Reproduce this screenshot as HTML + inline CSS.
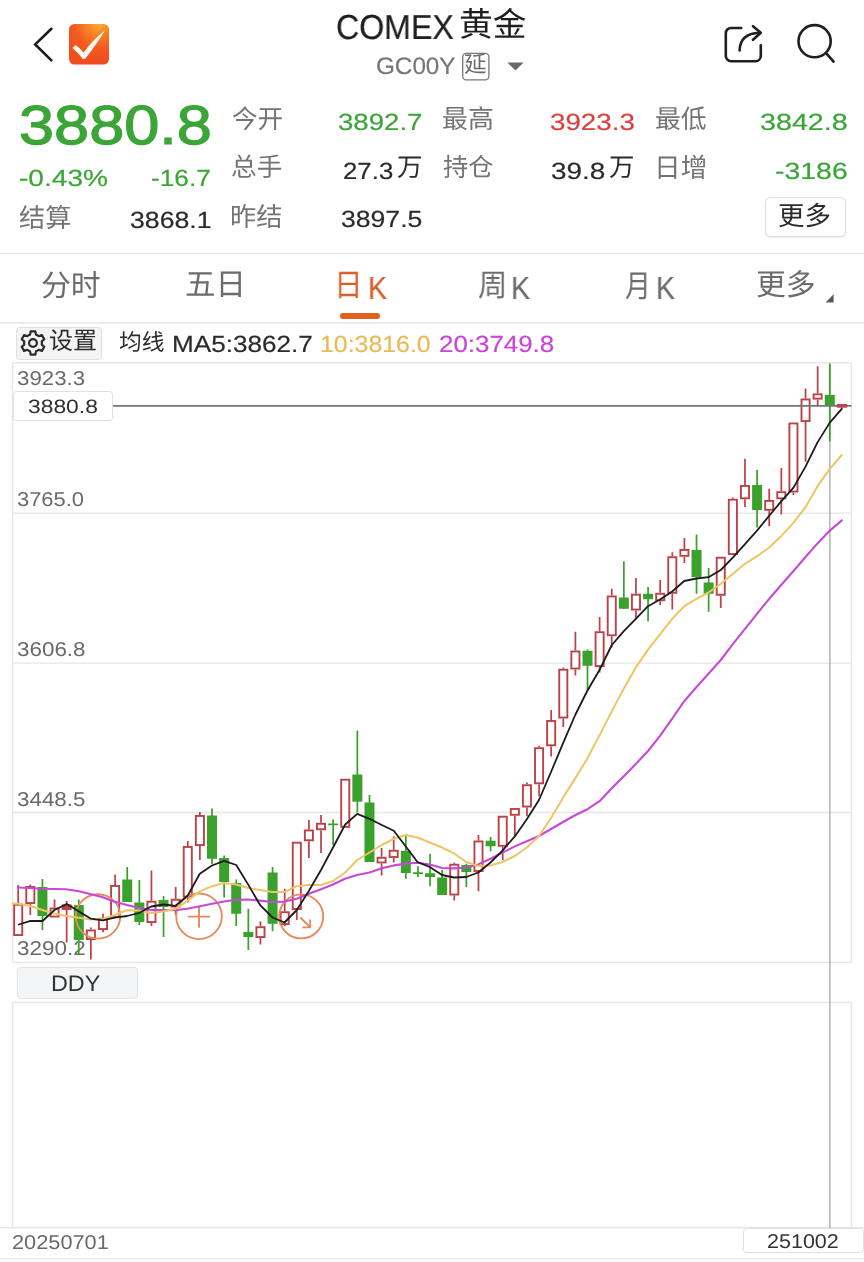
<!DOCTYPE html>
<html lang="zh"><head><meta charset="utf-8"><title>COMEX 黄金 GC00Y</title>
    <style>
    html,body{margin:0;padding:0;background:#fff}
    body{width:864px;height:1262px;position:relative;overflow:hidden;font-family:"Liberation Sans","Noto Sans CJK SC",sans-serif}
    .t{position:absolute;white-space:nowrap;line-height:1;transform-origin:0 0;will-change:transform;text-rendering:geometricPrecision;font-kerning:none}
.k{-webkit-text-stroke-width:.2px}
    .c{position:absolute;overflow:visible;display:block}
    .btn{position:absolute;box-sizing:content-box;border:1px solid #ddd}
    .hl{position:absolute;left:0;width:864px;height:1.2px}
    </style></head><body>
    <svg class="c" style="left:0;top:0;width:864px;height:100px" viewBox="0 0 864 100"><defs><radialGradient id="og" cx=".74" cy="-.02" r=".95"><stop offset="0" stop-color="#fbb035"/><stop offset=".3" stop-color="#f78326"/><stop offset=".62" stop-color="#f45c21"/><stop offset="1" stop-color="#f04d1f"/></radialGradient></defs><path d="M51.4 28.8 35.2 44.4 51.4 60.4" fill="none" stroke="#1c1c1c" stroke-width="2.6" stroke-linecap="round" stroke-linejoin="miter"/><rect x="69" y="24" width="40" height="40.5" rx="5.5" fill="url(#og)"/><path d="M72.3 48 75.6 44.9Q80 48 83.7 52.4 92.5 39.6 105.2 30.2 97.6 42.6 85.3 58.8L82.7 58.9Q78.4 52.8 72.3 48Z" fill="#fff6ee"/><g fill="none" stroke="#1f1f1f" stroke-width="2.6" stroke-linecap="round" stroke-linejoin="round"><path d="M741.2 28H731a5.2 5.2 0 0 0-5.2 5.2V56a5.2 5.2 0 0 0 5.2 5.2h24.6a5.2 5.2 0 0 0 5.2-5.2V45.2"/><path d="M739.6 50.4C739.8 40 746 33.4 759.6 32.8"/><path d="M753 26.2 760.8 32.7 753 39.8"/><circle cx="814.6" cy="41.2" r="16.1"/><path d="M826.3 53.4 833.6 61.6"/></g><rect x="462.7" y="53.3" width="26.2" height="26.6" rx="3.6" fill="none" stroke="#777" stroke-width="1.3"/><path d="M507.4 62.6H523.6L515.5 70.4Z" fill="#6a6a6a"/></svg>
<div class="t k" style="left:336.07px;top:11.00px;font-size:34.60px;color:#1e1e1e;transform:scaleX(0.9290);">COMEX</div>
<div class="t" style="left:459.34px;top:9.40px;font-size:33.37px;color:#1e1e1e;transform:scaleX(1.0114);">黄金</div>
<div class="t k" style="left:375.98px;top:55.00px;font-size:23.80px;color:#767676;transform:scaleX(1.0193);">GC00Y</div>
<div class="t" style="left:464.18px;top:54.40px;font-size:22.54px;color:#6a6a6a;">延</div>
<div class="t" style="left:18.70px;top:98.00px;font-size:55.00px;color:#3ba537;transform:scaleX(1.1469);-webkit-text-stroke:1.2px #3ba537;">3880.8</div>
<div class="t k" style="left:19.25px;top:167.00px;font-size:23.40px;color:#3ba537;transform:scaleX(1.2014);">-0.43%</div>
<div class="t k" style="left:151.33px;top:167.00px;font-size:23.40px;color:#3ba537;transform:scaleX(1.1211);">-16.7</div>
<div class="t" style="left:18.81px;top:204.60px;font-size:26.17px;color:#747474;">结算</div>
<div class="t k" style="left:129.58px;top:209.00px;font-size:23.40px;color:#2b2b2b;transform:scaleX(1.1394);">3868.1</div>
<div class="t" style="left:231.50px;top:108.10px;font-size:25.60px;color:#747474;">今开</div>
<div class="t k" style="left:338.15px;top:111.00px;font-size:23.40px;color:#3ba537;transform:scaleX(1.1802);">3892.7</div>
<div class="t" style="left:231.30px;top:156.00px;font-size:25.65px;color:#747474;">总手</div>
<div class="t k" style="left:343.30px;top:160.00px;font-size:23.40px;color:#2b2b2b;transform:scaleX(1.1033);">27.3</div>
<div class="t" style="left:397.34px;top:155.70px;font-size:25.41px;color:#2b2b2b;">万</div>
<div class="t" style="left:230.41px;top:204.00px;font-size:26.25px;color:#747474;">昨结</div>
<div class="t k" style="left:340.99px;top:208.00px;font-size:23.40px;color:#2b2b2b;transform:scaleX(1.1367);">3897.5</div>
<div class="t" style="left:442.38px;top:107.60px;font-size:25.93px;color:#747474;">最高</div>
<div class="t k" style="left:549.54px;top:111.00px;font-size:23.40px;color:#d9423c;transform:scaleX(1.1863);">3923.3</div>
<div class="t" style="left:442.89px;top:156.20px;font-size:25.22px;color:#747474;">持仓</div>
<div class="t k" style="left:551.34px;top:160.00px;font-size:23.40px;color:#2b2b2b;transform:scaleX(1.1920);">39.8</div>
<div class="t" style="left:609.34px;top:155.70px;font-size:25.41px;color:#2b2b2b;">万</div>
<div class="t" style="left:654.59px;top:107.60px;font-size:25.83px;color:#747474;">最低</div>
<div class="t k" style="left:759.71px;top:111.00px;font-size:23.40px;color:#3ba537;transform:scaleX(1.2263);">3842.8</div>
<div class="t" style="left:654.10px;top:155.40px;font-size:26.69px;color:#747474;">日增</div>
<div class="t k" style="left:774.74px;top:160.00px;font-size:23.40px;color:#3ba537;transform:scaleX(1.2154);">-3186</div>
<div class="btn" style="left:764.6px;top:197px;width:79.2px;height:37.8px;background:#fff;border-color:#dedede;border-radius:5.5px;box-shadow:0 1px 1.5px rgba(0,0,0,.07)"></div>
<div class="t" style="left:778.36px;top:203.30px;font-size:26.46px;color:#2b2b2b;">更多</div>
<div class="hl" style="top:253px;background:#e4e4e4"></div>
<div class="hl" style="top:321.6px;height:2.2px;background:#ededed"></div>
<div class="t" style="left:40.69px;top:271.50px;font-size:29.82px;color:#6c6c6c;">分时</div>
<div class="t" style="left:184.69px;top:270.40px;font-size:30.52px;color:#6c6c6c;">五日</div>
<div class="t" style="left:334.16px;top:270.40px;font-size:31.39px;color:#da6029;transform:scaleX(0.9130);">日</div>
<div class="t k" style="left:367.57px;top:272.00px;font-size:32.00px;color:#da6029;transform:scaleX(0.8878);">K</div>
<div style="position:absolute;left:339.8px;top:312.8px;width:40.3px;height:6.2px;border-radius:3.1px;background:#e0611f"></div>
<div class="t" style="left:478.03px;top:270.70px;font-size:30.75px;color:#6c6c6c;transform:scaleX(0.9522);">周</div>
<div class="t k" style="left:510.86px;top:272.00px;font-size:32.00px;color:#6c6c6c;transform:scaleX(0.8933);">K</div>
<div class="t" style="left:625.45px;top:270.50px;font-size:31.11px;color:#6c6c6c;transform:scaleX(0.8280);">月</div>
<div class="t k" style="left:655.57px;top:272.00px;font-size:32.00px;color:#6c6c6c;transform:scaleX(0.8878);">K</div>
<div class="t" style="left:756.00px;top:271.40px;font-size:29.84px;color:#6c6c6c;">更多</div>
<svg class="c" style="left:824px;top:293px;width:10px;height:11px" viewBox="0 0 10 11"><path d="M1.6 9.6H9.6V1.2Z" fill="#5a5a5a"/></svg>
<div class="btn" style="left:16.2px;top:327.4px;width:83.4px;height:30.4px;background:#f4f4f4;border-color:#e0e0e0;border-radius:4px"></div>
<svg class="c" style="left:18.9px;top:329.25px;width:28px;height:28px" viewBox="-14 -14 28 28"><g fill="none" stroke="#2a2a2a" stroke-width="2.2" stroke-linejoin="round"><path d="M-2.97 -8.39L-2.37 -11.66L2.37 -11.66L2.97 -8.39A8.9 8.9 0 0 1 5.78 -6.77L8.91 -7.89L11.29 -3.78L8.75 -1.62A8.9 8.9 0 0 1 8.75 1.62L11.29 3.78L8.91 7.89L5.78 6.77A8.9 8.9 0 0 1 2.97 8.39L2.37 11.66L-2.37 11.66L-2.97 8.39A8.9 8.9 0 0 1 -5.78 6.77L-8.91 7.89L-11.29 3.78L-8.75 1.62A8.9 8.9 0 0 1 -8.75 -1.62L-11.29 -3.78L-8.91 -7.89L-5.78 -6.77A8.9 8.9 0 0 1 -2.97 -8.39Z"/><circle r="3.9"/></g></svg>
<div class="t" style="left:49.17px;top:330.20px;font-size:23.97px;color:#2b2b2b;">设置</div>
<div class="t" style="left:118.58px;top:331.00px;font-size:22.73px;color:#2b2b2b;">均线</div>
<div class="t k" style="left:171.66px;top:333.00px;font-size:23.40px;color:#2b2b2b;transform:scaleX(1.1167);">MA5:3862.7</div>
<div class="t k" style="left:319.90px;top:333.00px;font-size:23.40px;color:#e9bb55;transform:scaleX(1.0635);">10:3816.0</div>
<div class="t k" style="left:438.70px;top:333.00px;font-size:23.40px;color:#c845d8;transform:scaleX(1.1073);">20:3749.8</div>
<div class="t" style="left:16.65px;top:369.00px;font-size:20.00px;color:#6a6a6a;transform:scaleX(1.1137);">3923.3</div>
<div class="t" style="left:16.67px;top:490.00px;font-size:20.00px;color:#6a6a6a;transform:scaleX(1.0951);">3765.0</div>
<div class="t" style="left:16.65px;top:640.00px;font-size:20.00px;color:#6a6a6a;transform:scaleX(1.1202);">3606.8</div>
<div class="t" style="left:16.65px;top:790.00px;font-size:20.00px;color:#6a6a6a;transform:scaleX(1.1197);">3448.5</div>
<div class="t" style="left:16.64px;top:939.00px;font-size:20.00px;color:#6a6a6a;transform:scaleX(1.1228);">3290.2</div>
<svg class="c" style="left:0;top:355px;width:864px;height:907px" viewBox="0 355 864 907"><g fill="none" stroke="#e6e6e6" stroke-width="1.4"><path d="M12.5 362.8H851.4V962.4H12.5Z"/><path d="M12.5 513.1H851.5"/><path d="M12.5 663.1H851.5"/><path d="M12.5 812.5H851.5"/><path d="M12.5 1002.5H851.5V1227.5H12.5Z"/><path d="M0 1258.6H864" stroke="#ececec"/><path d="M0 1227.6H864"/></g><path d="M829.9 363V1228" stroke="#a6a6a6" stroke-width="1.3"/><path d="M18.20 885.00V903.75" stroke="#bc4249" stroke-width="1.75"/><rect x="14.15" y="904.70" width="8.10" height="30.35" fill="#fff" stroke="#bc4249" stroke-width="1.9"/><path d="M30.31 884.50V886.00" stroke="#bc4249" stroke-width="1.75"/><path d="M30.31 904.00V915.00" stroke="#bc4249" stroke-width="1.75"/><rect x="26.26" y="886.95" width="8.10" height="16.10" fill="#fff" stroke="#bc4249" stroke-width="1.9"/><path d="M42.43 879.00V930.00" stroke="#3aa22c" stroke-width="1.75"/><rect x="37.43" y="887.00" width="10.00" height="29.00" fill="#3aa22c"/><path d="M54.54 899.50V907.50" stroke="#bc4249" stroke-width="1.75"/><rect x="50.49" y="908.45" width="8.10" height="8.10" fill="#fff" stroke="#bc4249" stroke-width="1.9"/><path d="M66.65 901.00V942.50" stroke="#bc4249" stroke-width="1.75"/><rect x="61.65" y="904.40" width="10.00" height="5.60" fill="#bc4249"/><path d="M78.77 899.50V955.00" stroke="#3aa22c" stroke-width="1.75"/><rect x="73.77" y="905.00" width="10.00" height="35.00" fill="#3aa22c"/><path d="M90.88 927.50V929.50" stroke="#bc4249" stroke-width="1.75"/><path d="M90.88 940.00V959.50" stroke="#bc4249" stroke-width="1.75"/><rect x="86.83" y="930.45" width="8.10" height="8.60" fill="#fff" stroke="#bc4249" stroke-width="1.9"/><path d="M102.99 913.80V917.80" stroke="#bc4249" stroke-width="1.75"/><path d="M102.99 930.00V932.30" stroke="#bc4249" stroke-width="1.75"/><rect x="98.94" y="918.75" width="8.10" height="10.30" fill="#fff" stroke="#bc4249" stroke-width="1.9"/><path d="M115.10 874.50V885.00" stroke="#bc4249" stroke-width="1.75"/><rect x="111.05" y="885.95" width="8.10" height="31.10" fill="#fff" stroke="#bc4249" stroke-width="1.9"/><path d="M127.22 867.00V902.00" stroke="#3aa22c" stroke-width="1.75"/><rect x="122.22" y="879.50" width="10.00" height="22.50" fill="#3aa22c"/><path d="M139.33 880.00V925.00" stroke="#3aa22c" stroke-width="1.75"/><rect x="134.33" y="902.50" width="10.00" height="19.50" fill="#3aa22c"/><path d="M151.44 870.50V900.75" stroke="#bc4249" stroke-width="1.75"/><path d="M151.44 923.00V926.00" stroke="#bc4249" stroke-width="1.75"/><rect x="147.39" y="901.70" width="8.10" height="20.35" fill="#fff" stroke="#bc4249" stroke-width="1.9"/><path d="M163.56 896.00V937.00" stroke="#3aa22c" stroke-width="1.75"/><rect x="158.56" y="900.00" width="10.00" height="7.00" fill="#3aa22c"/><path d="M175.67 887.00V898.75" stroke="#bc4249" stroke-width="1.75"/><path d="M175.67 907.50V915.00" stroke="#bc4249" stroke-width="1.75"/><rect x="171.62" y="899.70" width="8.10" height="6.85" fill="#fff" stroke="#bc4249" stroke-width="1.9"/><path d="M187.78 841.00V846.00" stroke="#bc4249" stroke-width="1.75"/><path d="M187.78 897.50V902.50" stroke="#bc4249" stroke-width="1.75"/><rect x="183.73" y="846.95" width="8.10" height="49.60" fill="#fff" stroke="#bc4249" stroke-width="1.9"/><path d="M199.89 812.00V815.00" stroke="#bc4249" stroke-width="1.75"/><path d="M199.89 846.00V860.00" stroke="#bc4249" stroke-width="1.75"/><rect x="195.84" y="815.95" width="8.10" height="29.10" fill="#fff" stroke="#bc4249" stroke-width="1.9"/><path d="M212.01 808.50V864.00" stroke="#3aa22c" stroke-width="1.75"/><rect x="207.01" y="815.50" width="10.00" height="43.25" fill="#3aa22c"/><path d="M224.12 855.50V897.50" stroke="#3aa22c" stroke-width="1.75"/><rect x="219.12" y="858.00" width="10.00" height="24.00" fill="#3aa22c"/><path d="M236.23 879.50V926.00" stroke="#3aa22c" stroke-width="1.75"/><rect x="231.23" y="883.00" width="10.00" height="30.75" fill="#3aa22c"/><path d="M248.35 908.75V950.00" stroke="#3aa22c" stroke-width="1.75"/><rect x="243.35" y="932.00" width="10.00" height="5.00" fill="#3aa22c"/><path d="M260.46 921.25V926.25" stroke="#bc4249" stroke-width="1.75"/><path d="M260.46 938.00V944.50" stroke="#bc4249" stroke-width="1.75"/><rect x="256.41" y="927.20" width="8.10" height="9.85" fill="#fff" stroke="#bc4249" stroke-width="1.9"/><path d="M272.57 867.00V931.25" stroke="#3aa22c" stroke-width="1.75"/><rect x="267.57" y="872.50" width="10.00" height="51.25" fill="#3aa22c"/><path d="M284.69 888.75V911.25" stroke="#bc4249" stroke-width="1.75"/><path d="M284.69 925.00V926.25" stroke="#bc4249" stroke-width="1.75"/><rect x="280.64" y="912.20" width="8.10" height="11.85" fill="#fff" stroke="#bc4249" stroke-width="1.9"/><path d="M296.80 910.00V920.00" stroke="#bc4249" stroke-width="1.75"/><rect x="292.75" y="842.70" width="8.10" height="66.35" fill="#fff" stroke="#bc4249" stroke-width="1.9"/><path d="M308.91 820.00V829.50" stroke="#bc4249" stroke-width="1.75"/><path d="M308.91 841.25V858.00" stroke="#bc4249" stroke-width="1.75"/><rect x="304.86" y="830.45" width="8.10" height="9.85" fill="#fff" stroke="#bc4249" stroke-width="1.9"/><path d="M321.02 815.00V822.80" stroke="#bc4249" stroke-width="1.75"/><path d="M321.02 830.20V853.00" stroke="#bc4249" stroke-width="1.75"/><rect x="316.97" y="823.75" width="8.10" height="5.50" fill="#fff" stroke="#bc4249" stroke-width="1.9"/><path d="M333.14 819.50V845.00" stroke="#3aa22c" stroke-width="1.75"/><rect x="328.14" y="823.50" width="10.00" height="1.70" fill="#3aa22c"/><rect x="341.20" y="779.70" width="8.10" height="47.15" fill="#fff" stroke="#bc4249" stroke-width="1.9"/><path d="M357.36 730.50V812.50" stroke="#3aa22c" stroke-width="1.75"/><rect x="352.36" y="774.50" width="10.00" height="27.20" fill="#3aa22c"/><path d="M369.48 795.00V862.00" stroke="#3aa22c" stroke-width="1.75"/><rect x="364.48" y="802.50" width="10.00" height="59.50" fill="#3aa22c"/><path d="M381.59 848.00V856.80" stroke="#bc4249" stroke-width="1.75"/><path d="M381.59 863.40V875.50" stroke="#bc4249" stroke-width="1.75"/><rect x="377.54" y="857.75" width="8.10" height="4.70" fill="#fff" stroke="#bc4249" stroke-width="1.9"/><path d="M393.70 836.25V849.80" stroke="#bc4249" stroke-width="1.75"/><path d="M393.70 858.00V862.50" stroke="#bc4249" stroke-width="1.75"/><rect x="389.65" y="850.75" width="8.10" height="6.30" fill="#fff" stroke="#bc4249" stroke-width="1.9"/><path d="M405.82 835.00V878.75" stroke="#3aa22c" stroke-width="1.75"/><rect x="400.82" y="850.75" width="10.00" height="22.25" fill="#3aa22c"/><path d="M417.93 866.25V877.00" stroke="#3aa22c" stroke-width="1.75"/><rect x="412.93" y="872.30" width="10.00" height="1.70" fill="#3aa22c"/><path d="M430.04 853.75V886.25" stroke="#3aa22c" stroke-width="1.75"/><rect x="425.04" y="873.25" width="10.00" height="3.75" fill="#3aa22c"/><path d="M442.15 870.00V895.00" stroke="#3aa22c" stroke-width="1.75"/><rect x="437.15" y="877.50" width="10.00" height="17.50" fill="#3aa22c"/><path d="M454.27 862.50V863.75" stroke="#bc4249" stroke-width="1.75"/><path d="M454.27 895.50V900.50" stroke="#bc4249" stroke-width="1.75"/><rect x="450.22" y="864.70" width="8.10" height="29.85" fill="#fff" stroke="#bc4249" stroke-width="1.9"/><path d="M466.38 863.75V887.00" stroke="#3aa22c" stroke-width="1.75"/><rect x="461.38" y="865.00" width="10.00" height="7.00" fill="#3aa22c"/><path d="M478.49 835.00V840.50" stroke="#bc4249" stroke-width="1.75"/><path d="M478.49 872.00V891.25" stroke="#bc4249" stroke-width="1.75"/><rect x="474.44" y="841.45" width="8.10" height="29.60" fill="#fff" stroke="#bc4249" stroke-width="1.9"/><path d="M490.61 837.00V851.25" stroke="#3aa22c" stroke-width="1.75"/><rect x="485.61" y="840.75" width="10.00" height="5.50" fill="#3aa22c"/><path d="M502.72 846.75V860.00" stroke="#bc4249" stroke-width="1.75"/><rect x="498.67" y="816.70" width="8.10" height="29.10" fill="#fff" stroke="#bc4249" stroke-width="1.9"/><path d="M514.83 815.75V836.25" stroke="#bc4249" stroke-width="1.75"/><rect x="510.78" y="808.95" width="8.10" height="5.85" fill="#fff" stroke="#bc4249" stroke-width="1.9"/><path d="M526.95 782.50V784.25" stroke="#bc4249" stroke-width="1.75"/><path d="M526.95 807.50V816.25" stroke="#bc4249" stroke-width="1.75"/><rect x="522.90" y="785.20" width="8.10" height="21.35" fill="#fff" stroke="#bc4249" stroke-width="1.9"/><path d="M539.06 745.75V747.25" stroke="#bc4249" stroke-width="1.75"/><path d="M539.06 784.25V796.25" stroke="#bc4249" stroke-width="1.75"/><rect x="535.01" y="748.20" width="8.10" height="35.10" fill="#fff" stroke="#bc4249" stroke-width="1.9"/><path d="M551.17 710.00V720.00" stroke="#bc4249" stroke-width="1.75"/><path d="M551.17 746.25V756.50" stroke="#bc4249" stroke-width="1.75"/><rect x="547.12" y="720.95" width="8.10" height="24.35" fill="#fff" stroke="#bc4249" stroke-width="1.9"/><path d="M563.29 667.50V668.75" stroke="#bc4249" stroke-width="1.75"/><path d="M563.29 718.50V727.00" stroke="#bc4249" stroke-width="1.75"/><rect x="559.24" y="669.70" width="8.10" height="47.85" fill="#fff" stroke="#bc4249" stroke-width="1.9"/><path d="M575.40 631.75V650.50" stroke="#bc4249" stroke-width="1.75"/><path d="M575.40 669.50V675.50" stroke="#bc4249" stroke-width="1.75"/><rect x="571.35" y="651.45" width="8.10" height="17.10" fill="#fff" stroke="#bc4249" stroke-width="1.9"/><path d="M587.51 649.50V690.00" stroke="#3aa22c" stroke-width="1.75"/><rect x="582.51" y="650.75" width="10.00" height="15.00" fill="#3aa22c"/><path d="M599.62 617.00V631.25" stroke="#bc4249" stroke-width="1.75"/><path d="M599.62 667.00V672.50" stroke="#bc4249" stroke-width="1.75"/><rect x="595.57" y="632.20" width="8.10" height="33.85" fill="#fff" stroke="#bc4249" stroke-width="1.9"/><path d="M611.74 588.75V595.50" stroke="#bc4249" stroke-width="1.75"/><path d="M611.74 636.25V647.50" stroke="#bc4249" stroke-width="1.75"/><rect x="607.69" y="596.45" width="8.10" height="38.85" fill="#fff" stroke="#bc4249" stroke-width="1.9"/><path d="M623.85 561.25V608.75" stroke="#3aa22c" stroke-width="1.75"/><rect x="618.85" y="597.50" width="10.00" height="11.25" fill="#3aa22c"/><path d="M635.96 578.00V593.75" stroke="#bc4249" stroke-width="1.75"/><path d="M635.96 610.50V619.50" stroke="#bc4249" stroke-width="1.75"/><rect x="631.91" y="594.70" width="8.10" height="14.85" fill="#fff" stroke="#bc4249" stroke-width="1.9"/><path d="M648.08 587.00V621.25" stroke="#3aa22c" stroke-width="1.75"/><rect x="643.08" y="593.75" width="10.00" height="5.50" fill="#3aa22c"/><path d="M660.19 580.00V592.80" stroke="#bc4249" stroke-width="1.75"/><path d="M660.19 601.20V605.00" stroke="#bc4249" stroke-width="1.75"/><rect x="656.14" y="593.75" width="8.10" height="6.50" fill="#fff" stroke="#bc4249" stroke-width="1.9"/><path d="M672.30 552.25V556.25" stroke="#bc4249" stroke-width="1.75"/><path d="M672.30 593.75V609.50" stroke="#bc4249" stroke-width="1.75"/><rect x="668.25" y="557.20" width="8.10" height="35.60" fill="#fff" stroke="#bc4249" stroke-width="1.9"/><path d="M684.41 538.00V549.00" stroke="#bc4249" stroke-width="1.75"/><path d="M684.41 556.80V563.00" stroke="#bc4249" stroke-width="1.75"/><rect x="680.37" y="549.95" width="8.10" height="5.90" fill="#fff" stroke="#bc4249" stroke-width="1.9"/><path d="M696.53 534.50V593.75" stroke="#3aa22c" stroke-width="1.75"/><rect x="691.53" y="550.00" width="10.00" height="27.00" fill="#3aa22c"/><path d="M708.64 568.00V611.75" stroke="#3aa22c" stroke-width="1.75"/><rect x="703.64" y="582.50" width="10.00" height="11.25" fill="#3aa22c"/><path d="M720.75 595.75V608.00" stroke="#bc4249" stroke-width="1.75"/><rect x="716.70" y="557.70" width="8.10" height="37.10" fill="#fff" stroke="#bc4249" stroke-width="1.9"/><path d="M732.87 497.50V498.75" stroke="#bc4249" stroke-width="1.75"/><rect x="728.82" y="499.70" width="8.10" height="54.35" fill="#fff" stroke="#bc4249" stroke-width="1.9"/><path d="M744.98 458.75V485.00" stroke="#bc4249" stroke-width="1.75"/><path d="M744.98 499.25V507.00" stroke="#bc4249" stroke-width="1.75"/><rect x="740.93" y="485.95" width="8.10" height="12.35" fill="#fff" stroke="#bc4249" stroke-width="1.9"/><path d="M757.09 470.00V527.50" stroke="#3aa22c" stroke-width="1.75"/><rect x="752.09" y="485.00" width="10.00" height="25.00" fill="#3aa22c"/><path d="M769.21 488.75V500.00" stroke="#bc4249" stroke-width="1.75"/><path d="M769.21 510.75V526.25" stroke="#bc4249" stroke-width="1.75"/><rect x="765.16" y="500.95" width="8.10" height="8.85" fill="#fff" stroke="#bc4249" stroke-width="1.9"/><path d="M781.32 468.00V491.25" stroke="#bc4249" stroke-width="1.75"/><path d="M781.32 499.25V514.50" stroke="#bc4249" stroke-width="1.75"/><rect x="777.27" y="492.20" width="8.10" height="6.10" fill="#fff" stroke="#bc4249" stroke-width="1.9"/><path d="M793.43 492.50V495.00" stroke="#bc4249" stroke-width="1.75"/><rect x="789.38" y="423.45" width="8.10" height="68.10" fill="#fff" stroke="#bc4249" stroke-width="1.9"/><path d="M805.55 388.50V398.50" stroke="#bc4249" stroke-width="1.75"/><path d="M805.55 422.00V461.75" stroke="#bc4249" stroke-width="1.75"/><rect x="801.50" y="399.45" width="8.10" height="21.60" fill="#fff" stroke="#bc4249" stroke-width="1.9"/><path d="M817.66 366.25V393.40" stroke="#bc4249" stroke-width="1.75"/><path d="M817.66 399.60V405.50" stroke="#bc4249" stroke-width="1.75"/><rect x="813.61" y="394.35" width="8.10" height="4.30" fill="#fff" stroke="#bc4249" stroke-width="1.9"/><path d="M829.77 364.00V441.25" stroke="#3aa22c" stroke-width="1.75"/><rect x="824.77" y="394.90" width="10.00" height="10.70" fill="#3aa22c"/><path d="M841.88 404.00V407.40" stroke="#bc4249" stroke-width="1.75"/><rect x="836.88" y="404.00" width="10.00" height="3.40" fill="#bc4249"/><g fill="none" stroke="#e58a5c" stroke-width="1.9" stroke-linecap="round" stroke-linejoin="round"><circle cx="98" cy="916.4" r="22.2"/><circle cx="199" cy="916.3" r="22.8"/><circle cx="301.2" cy="916.4" r="22"/><path d="M188.6 916.6H209.4M199 906.4V927"/><path d="M300.8 918 309.6 926.6M303.2 927.4H310.2V920.2"/></g><g fill="none" stroke-linejoin="round" stroke-linecap="round"><path d="M18.0 887.5L30.0 888.0L42.5 888.8L66.0 889.2L79.0 891.2L102.0 897.0L114.0 901.5L127.0 905.0L139.0 908.0L151.0 910.0L163.0 910.0L175.0 910.3L187.0 908.8L200.0 906.2L212.0 903.8L224.0 901.5L236.0 899.8L248.0 899.5L260.0 900.6L272.5 902.0L284.5 901.6L296.8 898.8L308.8 893.8L321.0 889.2L333.0 884.5L345.0 878.8L357.0 875.0L369.5 872.5L381.8 868.2L393.8 865.4L405.8 863.6L417.5 862.8L429.8 864.6L442.0 868.0L454.0 868.4L466.2 867.5L478.2 864.4L490.5 858.8L502.5 852.6L514.8 846.4L526.8 841.2L539.0 836.0L551.0 829.0L563.2 822.0L575.5 815.0L587.5 809.2L600.0 800.8L611.8 788.2L623.8 776.2L635.8 764.0L648.0 751.0L660.0 735.8L672.2 718.6L684.2 701.2L696.5 687.0L708.5 673.8L720.8 660.0L733.0 643.8L745.0 628.8L757.0 613.8L769.2 598.8L781.2 585.0L793.5 571.0L805.5 557.0L817.5 543.4L829.8 530.6L841.8 520.4" stroke="#c64ad6" stroke-width="2.1"/><path d="M12.5 903.5L18.8 903.8L30.5 906.0L42.5 910.0L54.5 913.6L66.8 916.0L79.0 917.8L90.5 919.6L102.8 919.0L114.8 915.0L127.0 910.2L139.0 910.6L151.2 913.0L163.5 911.5L175.5 908.8L187.8 900.6L199.8 891.4L212.0 886.2L224.0 883.0L236.0 884.5L248.0 888.0L260.0 890.0L272.5 892.0L284.5 892.0L296.8 886.2L308.8 885.0L321.0 885.0L333.0 881.0L345.2 872.5L357.2 860.0L369.5 852.5L381.8 845.0L393.8 838.8L405.8 835.0L417.5 837.5L429.8 842.5L442.0 847.5L454.0 853.4L466.2 862.0L478.2 866.0L490.5 865.5L502.5 862.0L514.8 856.0L526.8 847.5L539.0 836.0L551.0 818.0L563.2 797.4L575.2 778.4L587.2 758.8L599.5 735.4L611.8 711.4L623.8 688.6L635.8 667.4L648.0 649.6L660.0 634.4L672.2 618.8L684.2 606.2L696.5 598.8L708.5 592.5L720.8 583.8L733.0 573.8L745.0 563.8L757.0 556.2L769.2 547.5L781.2 536.2L793.5 522.6L805.5 507.2L817.5 486.2L829.8 468.8L841.8 455.0" stroke="#efc464" stroke-width="2"/><path d="M18.8 924.5L30.5 920.8L42.5 921.0L54.5 910.0L66.8 904.0L79.0 911.5L90.5 918.6L102.8 920.4L114.8 917.6L127.0 916.0L139.0 913.0L151.2 906.5L163.5 904.5L175.5 905.8L187.8 895.5L199.8 873.8L212.0 865.5L224.2 860.8L236.2 865.0L248.2 884.6L260.2 905.2L272.5 917.5L284.5 922.5L296.8 910.0L308.8 891.0L321.0 870.0L333.0 847.5L345.2 824.5L357.2 813.8L369.5 818.8L381.8 825.0L393.8 830.8L405.8 846.5L417.5 862.0L429.8 867.0L442.0 875.0L454.0 877.5L466.2 877.0L478.2 872.5L490.5 862.5L502.5 850.6L514.8 836.4L526.8 819.2L539.0 800.0L551.0 772.0L563.2 742.8L575.2 715.0L587.2 691.0L599.5 670.0L611.8 645.0L623.8 631.2L635.8 618.8L648.0 606.2L660.0 599.5L672.2 591.5L684.2 581.0L696.5 578.5L708.5 577.2L720.8 570.0L733.0 557.4L745.0 544.2L757.0 530.6L769.2 515.8L781.2 501.4L793.5 487.6L805.5 466.6L817.5 442.4L829.8 422.6L841.8 408.8" stroke="#1c1c1c" stroke-width="1.8"/></g><path d="M112 405.8H851.4" stroke="#747474" stroke-width="1.7"/><rect x="836.68" y="404.1" width="10.4" height="3.5" rx="1.2" fill="#bb4650"/></svg>
<div class="btn" style="left:13px;top:391px;width:98px;height:27.5px;background:#fff;border-color:#e0e0e0;border-radius:3.5px"></div>
<div class="t" style="left:27.53px;top:398.00px;font-size:19.20px;color:#2e2e2e;transform:scaleX(1.1904);">3880.8</div>
<div class="btn" style="left:16.8px;top:966.6px;width:119px;height:30.4px;background:#f4f5f6;border-color:#e0e2e4;border-radius:3.5px"></div>
<div class="t" style="left:51.38px;top:973.00px;font-size:22.40px;color:#333;transform:scaleX(1.0433);">DDY</div>
<div class="t" style="left:12.11px;top:1233.00px;font-size:20.00px;color:#6a6a6a;transform:scaleX(1.0873);">20250701</div>
<div class="btn" style="left:743px;top:1228px;width:119px;height:22.6px;background:#fff;border-color:#e0e0e0;border-radius:3.5px"></div>
<div class="t" style="left:767.12px;top:1232.00px;font-size:20.00px;color:#333;transform:scaleX(1.0751);">251002</div>
    </body></html>
